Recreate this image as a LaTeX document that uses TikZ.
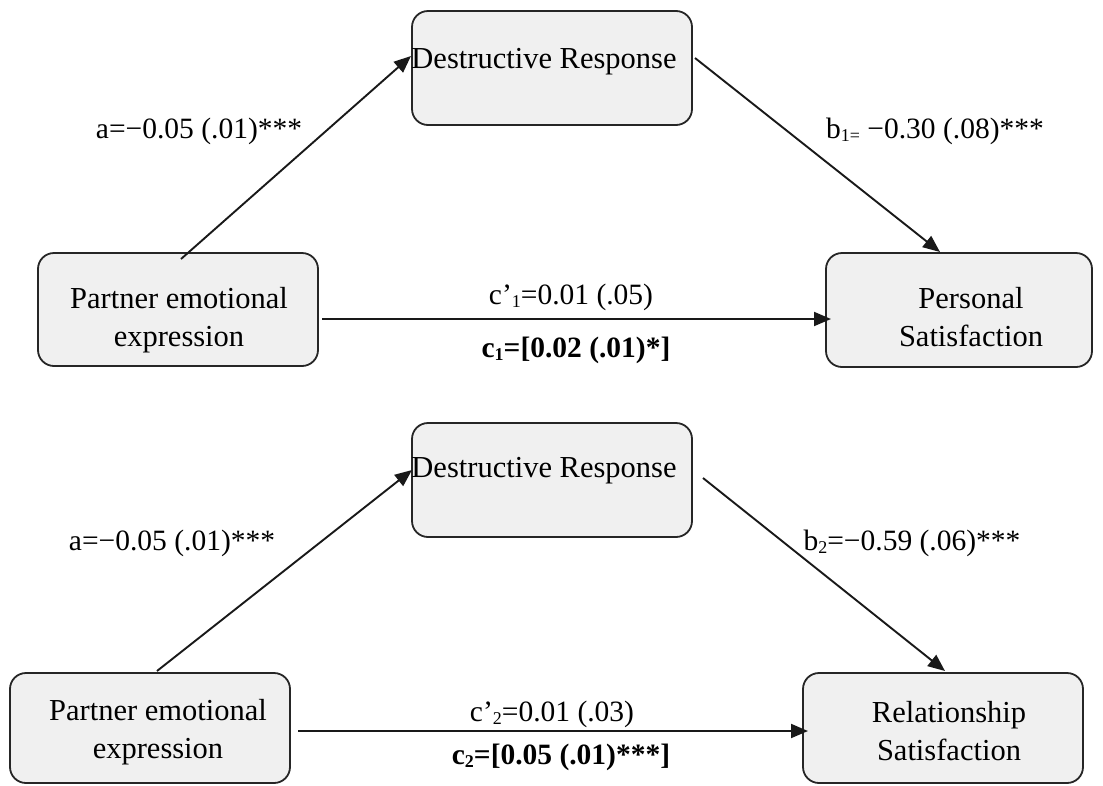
\documentclass[tikz,border=0pt]{standalone}
\usepackage{fontspec}
\setmainfont{Liberation Serif}
\usetikzlibrary{arrows.meta}
\newcommand{\sbs}[1]{\raisebox{-0.25ex}{\fontsize{18}{18}\selectfont #1}}
\tikzset{
  box/.style={draw=black!85, fill=black!6, line width=1.8pt, rounded corners=16pt, inner sep=0pt},
  txt/.style={font=\fontsize{30.5}{38}\selectfont, inner sep=0pt, align=center},
  lbl/.style={font=\fontsize{29.5}{34}\selectfont, inner sep=0pt},
  conn/.style={line width=1.9pt, black!90, -{Triangle[length=17pt,width=14pt]}},
}
\begin{document}
\begin{tikzpicture}[x=1pt,y=-1pt]
\useasboundingbox (0,0) rectangle (1103,785);
% ---- top panel ----
\node[box, minimum width=280pt, minimum height=114pt] (dr1) at (552,68) {};
\node[box, minimum width=280pt, minimum height=113pt] (pe1) at (178,309.5) {};
\node[box, minimum width=266pt, minimum height=114pt] (ps1) at (959,310) {};
\node[txt] (dr1t) at (544,62) {Destructive Response};
\node[txt] (pe1t) at (179,320) {Partner emotional\\expression};
\node[txt] (ps1t) at (971,317) {Personal\\Satisfaction};
\coordinate (a1s) at (181,259);
\coordinate (a1e) at (411,56);
\coordinate (b1s) at (695,58);
\coordinate (b1e) at (940,252);
\coordinate (c1s) at (322,319);
\coordinate (c1e) at (831,319);
\draw[conn] (a1s) -- (a1e);
\draw[conn] (b1s) -- (b1e);
\draw[conn] (c1s) -- (c1e);
\node[lbl] (la1) at (199,131) {a=−0.05 (.01)***};
\node[lbl] (lb1) at (935,131) {b\sbs{1=} −0.30 (.08)***};
\node[lbl] (lcp1) at (571,297) {c’\sbs{1}=0.01 (.05)};
\node[lbl, font=\fontsize{29.5}{34}\selectfont\bfseries] (lc1) at (576,350) {c\sbs{1}=[0.02 (.01)*]};
% ---- bottom panel ----
\node[box, minimum width=280pt, minimum height=114pt] (dr2) at (552,480) {};
\node[box, minimum width=280pt, minimum height=110pt] (pe2) at (150,728) {};
\node[box, minimum width=280pt, minimum height=110pt] (rs2) at (943,728) {};
\node[txt] (dr2t) at (544,471) {Destructive Response};
\node[txt] (pe2t) at (158,732) {Partner emotional\\expression};
\node[txt] (rs2t) at (949,731) {Relationship\\Satisfaction};
\coordinate (a2s) at (157,671);
\coordinate (a2e) at (412,470);
\coordinate (b2s) at (703,478);
\coordinate (b2e) at (945,671);
\coordinate (c2s) at (298,731);
\coordinate (c2e) at (808,731);
\draw[conn] (a2s) -- (a2e);
\draw[conn] (b2s) -- (b2e);
\draw[conn] (c2s) -- (c2e);
\node[lbl] (la2) at (172,543) {a=−0.05 (.01)***};
\node[lbl] (lb2) at (912,543) {b\sbs{2}=−0.59 (.06)***};
\node[lbl] (lcp2) at (552,714) {c’\sbs{2}=0.01 (.03)};
\node[lbl, font=\fontsize{29.5}{34}\selectfont\bfseries] (lc2) at (561,757) {c\sbs{2}=[0.05 (.01)***]};
\end{tikzpicture}
\end{document}
